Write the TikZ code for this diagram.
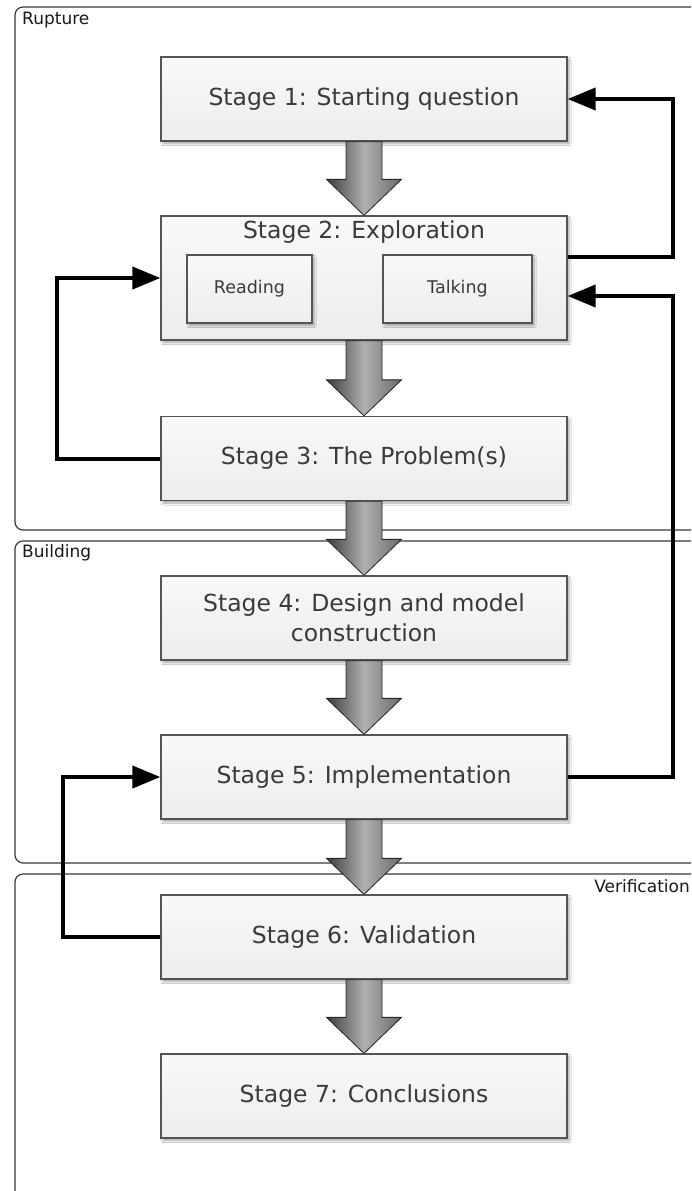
\documentclass[tikz,border=0pt]{standalone}
\usepackage{fontspec}
\setmainfont{DejaVu Sans}
\usetikzlibrary{arrows.meta,shadows.blur}

\definecolor{boxline}{HTML}{555555}
\definecolor{boxtext}{HTML}{3A3A3A}
\definecolor{frameline}{HTML}{3A3A3A}
\definecolor{arrowdark}{HTML}{3C3C3C}
\definecolor{arrowlight}{HTML}{B0B0B0}
\definecolor{arrowmid}{HTML}{6A6A6A}

\pgfdeclarehorizontalshading{arrowshade}{100bp}{%
  color(0bp)=(arrowdark); color(25bp)=(arrowdark); color(50bp)=(arrowlight);
  color(75bp)=(arrowmid); color(100bp)=(arrowmid)}

\tikzset{
  frame/.style={draw=frameline, line width=1.2pt, rounded corners=8pt},
  framelabel/.style={font=\fontsize{17}{20}\selectfont, text=black!90, inner sep=0pt},
  stagebox/.style={draw=boxline, line width=1.3pt, top color=gray!5, bottom color=gray!14,
    minimum width=406pt, minimum height=84pt, inner sep=0pt, text=boxtext,
    font=\fontsize{23.5}{30}\selectfont, align=center,
    blur shadow={shadow xshift=2pt, shadow yshift=-2.5pt, shadow blur steps=6, shadow opacity=35}},
  subbox/.style={stagebox, minimum height=68pt, font=\fontsize{17.5}{20}\selectfont},
  titletext/.style={text=boxtext, font=\fontsize{23.5}{30}\selectfont, inner sep=0pt},
  arrowshadow/.style={fill=black, opacity=0.25},
  blockarrow/.style={draw=black!85, line width=0.8pt, shading=arrowshade},
  feedback/.style={line width=4pt, line join=miter,
    -{Triangle[length=28pt,width=22pt,fill=black]}},
}

% thick shaded arrow from the bottom of one stage to the top of the next
\newcommand\arrowoutline[2]{([xshift=-18pt]#1.south) -- ([xshift=18pt]#1.south)
    -- ([xshift=18pt,yshift=36pt]#2.north) -- ([xshift=37.5pt,yshift=36pt]#2.north)
    -- (#2.north) -- ([xshift=-37.5pt,yshift=36pt]#2.north)
    -- ([xshift=-18pt,yshift=36pt]#2.north) -- cycle}
\newcommand\stagearrow[2]{%
  \path[arrowshadow, xshift=2pt, yshift=-2pt] \arrowoutline{#1}{#2};
  \path[blockarrow] \arrowoutline{#1}{#2};}

\begin{document}
\begin{tikzpicture}[x=1pt,y=-1pt]
  \useasboundingbox (0,0) rectangle (691,1191);
  \clip (0,0) rectangle (691,1191);
  \fill[white] (0,0) rectangle (691,1191);

  % phase frames
  \draw[frame] (15,7) rectangle (730,530);
  \draw[frame] (15,541) rectangle (730,863);
  \draw[frame] (15,874) rectangle (730,1230);
  \node[framelabel, anchor=west] (lrup) at (22,20) {Rupture};
  \node[framelabel, anchor=west] (lbld) at (22,553) {Building};
  \node[framelabel, anchor=east] (lver) at (690,886) {Verification};

  % stages
  \node[stagebox] (s1) at (364,99) {Stage 1: Starting question};
  \node[stagebox, minimum height=124pt] (s2) at (364,278) {};
  \node[titletext] (s2t) at (364,232) {Stage 2: Exploration};
  \node[subbox, minimum width=125pt] (rd) at (249.5,289) {Reading};
  \node[subbox, minimum width=149pt] (tk) at (457.5,289) {Talking};
  \node[stagebox] (s3) at (364,458.5) {Stage 3: The Problem(s)};
  \node[stagebox] (s4) at (364,618) {Stage 4: Design and model\\construction};
  \node[stagebox] (s5) at (364,777) {Stage 5: Implementation};
  \node[stagebox] (s6) at (364,937) {Stage 6: Validation};
  \node[stagebox] (s7) at (364,1096) {Stage 7: Conclusions};

  % main flow
  \stagearrow{s1}{s2}
  \stagearrow{s2}{s3}
  \stagearrow{s3}{s4}
  \stagearrow{s4}{s5}
  \stagearrow{s5}{s6}
  \stagearrow{s6}{s7}

  % feedback loops
  \coordinate (rx) at (673,0);
  \coordinate (lxa) at (57,0);
  \coordinate (lxb) at (63,0);
  \draw[feedback] ([yshift=21pt]s2.east) -| (s1.east -| rx) -- (s1.east);
  \draw[feedback] (s3.west) -| (s2.west -| lxa) -- (s2.west);
  \draw[feedback] (s5.east) -| ([yshift=-18pt]s2.east -| rx) -- ([yshift=-18pt]s2.east);
  \draw[feedback] (s6.west) -| (s5.west -| lxb) -- (s5.west);
\end{tikzpicture}
\end{document}
